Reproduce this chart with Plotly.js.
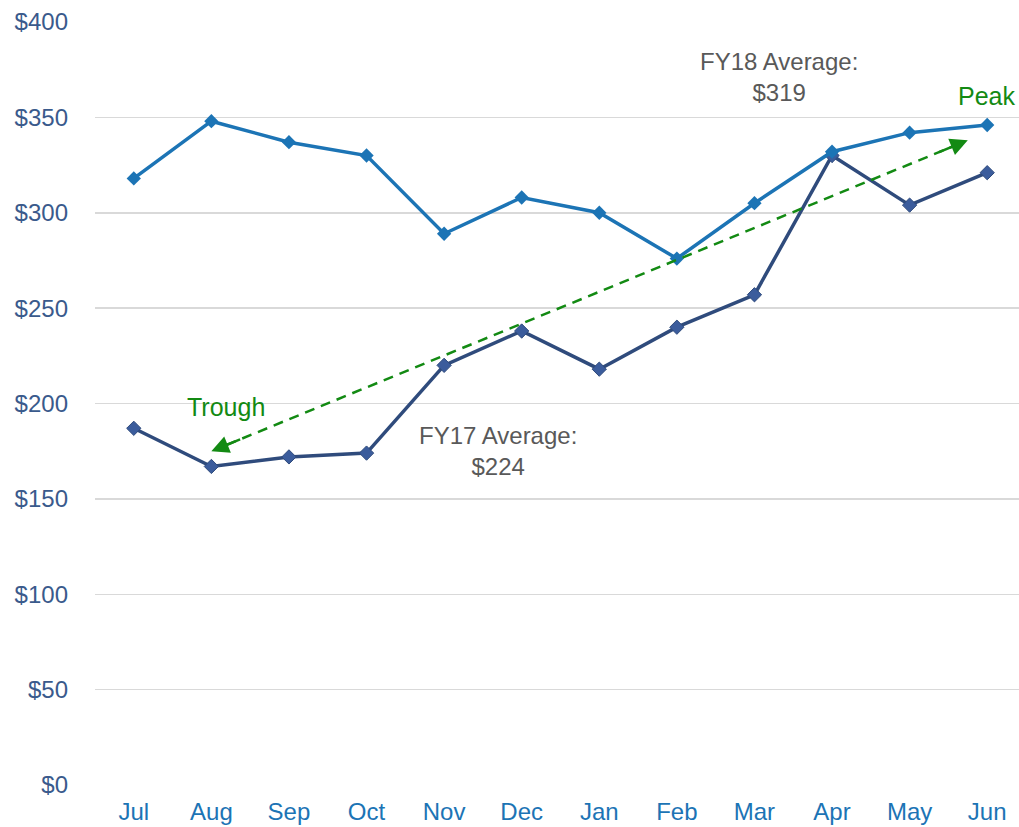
<!DOCTYPE html>
<html>
<head>
<meta charset="utf-8">
<script src="https://cdn.plot.ly/plotly-3.0.1.min.js"></script>
<style>html,body{margin:0;padding:0;background:#fff;}#chart{width:1019px;height:827px;}</style>
</head>
<body>
<div id="chart"></div>
<script>
const months = ["Jul","Aug","Sep","Oct","Nov","Dec","Jan","Feb","Mar","Apr","May","Jun"];
const fy18 = [318, 348, 337, 330, 289, 308, 300, 276, 305, 332, 342, 346];
const fy17 = [187, 167, 172, 174, 220, 238, 218, 240, 257, 330, 304, 321];
const yTickVals = [0, 50, 100, 150, 200, 250, 300, 350, 400];
const yTickText = ["$0","$50","$100","$150","$200","$250","$300","$350","$400"];
const fy17Avg = "$224";
const fy18Avg = "$319";

const idx = months.map((m, i) => i);

const traces = [
  {
    x: idx, y: fy17, type: "scatter", mode: "lines+markers", name: "FY17",
    line: {color: "#2f4b7c", width: 3.5},
    marker: {symbol: "diamond", size: 11, color: "#3b5c9c", line: {color: "#2f4b7c", width: 1}}
  },
  {
    x: idx, y: fy18, type: "scatter", mode: "lines+markers", name: "FY18",
    line: {color: "#1c74b5", width: 3.5},
    marker: {symbol: "diamond", size: 11, color: "#1c74b5"}
  }
];

const green = "#138a13";
const txtFont = {family: "Liberation Sans, Arial, sans-serif", size: 24, color: "#595959"};
const grFont = {family: "Liberation Sans, Arial, sans-serif", size: 25, color: green};

// dashed trend arrow endpoints (data coords)
const a0 = {x: 1.0, y: 175}, a1 = {x: 10.75, y: 338};
const dx = a1.x - a0.x, dy = a1.y - a0.y;

const layout = {
  width: 1019, height: 827,
  margin: {l: 95, r: 0, t: 22, b: 42},
  paper_bgcolor: "#fff", plot_bgcolor: "#fff",
  showlegend: false,
  xaxis: {
    range: [-0.5, 11.41], tickvals: idx, ticktext: months,
    showgrid: false, zeroline: false, showline: false, ticks: "",
    tickfont: {family: "Liberation Sans, Arial, sans-serif", size: 24, color: "#1c74b5"},
    ticklabelstandoff: 10
  },
  yaxis: {
    range: [0, 400], tickvals: yTickVals, ticktext: yTickText,
    showgrid: true, gridcolor: "#d9d9d9", gridwidth: 1.5, zeroline: false, showline: false, ticks: "",
    tickfont: {family: "Liberation Sans, Arial, sans-serif", size: 24, color: "#3a5a8c"},
    ticklabelstandoff: 26
  },
  shapes: [
    {type: "line", xref: "x", yref: "y", x0: a0.x + dx*0.02, y0: a0.y + dy*0.02, x1: a1.x - dx*0.02, y1: a1.y - dy*0.02,
     line: {color: green, width: 2.5, dash: "10px,7px"}}
  ],
  annotations: [
    {xref: "x", yref: "y", x: 8.32, y: 371, text: "FY18 Average:<br>" + fy18Avg, showarrow: false, font: txtFont, align: "center"},
    {xref: "x", yref: "y", x: 4.69, y: 175, text: "FY17 Average:<br>" + fy17Avg, showarrow: false, font: txtFont, align: "center"},
    {xref: "x", yref: "y", x: 1.19, y: 198, text: "Trough", showarrow: false, font: grFont},
    {xref: "x", yref: "y", x: 10.99, y: 361, text: "Peak", showarrow: false, font: grFont},
    {xref: "x", yref: "y", axref: "x", ayref: "y", x: a0.x, y: a0.y, ax: a0.x + dx*0.04, ay: a0.y + dy*0.04,
     text: "", showarrow: true, arrowhead: 2, arrowsize: 1.4, arrowwidth: 2.5, arrowcolor: green},
    {xref: "x", yref: "y", axref: "x", ayref: "y", x: a1.x, y: a1.y, ax: a1.x - dx*0.04, ay: a1.y - dy*0.04,
     text: "", showarrow: true, arrowhead: 2, arrowsize: 1.4, arrowwidth: 2.5, arrowcolor: green}
  ]
};

Plotly.newPlot("chart", traces, layout, {displayModeBar: false, staticPlot: true});
</script>
</body>
</html>
